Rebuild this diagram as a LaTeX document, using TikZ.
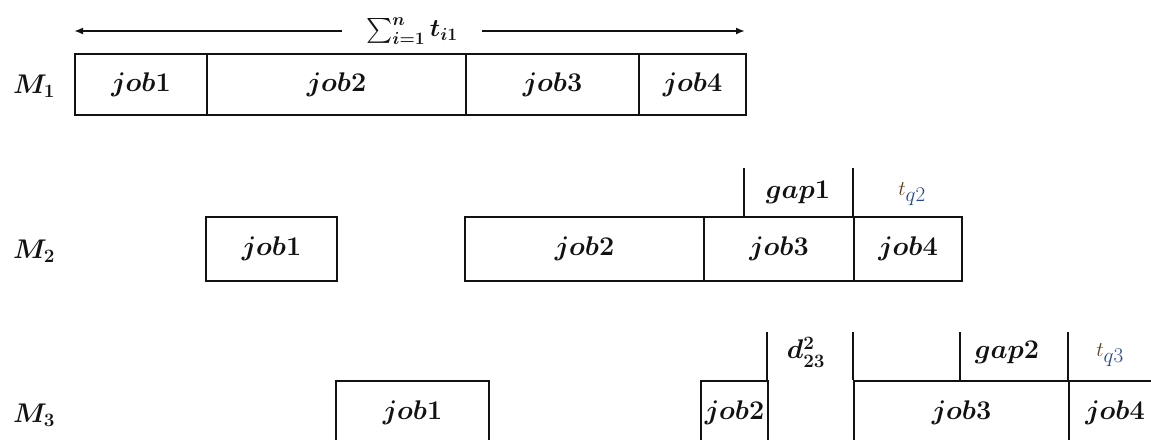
\RequirePackage{fix-cm}
\documentclass[tikz,border=0pt]{standalone}
\usepackage{amsmath}
\usetikzlibrary{arrows.meta}
\definecolor{ink}{RGB}{18,18,18}
\definecolor{tbrown}{RGB}{95,62,25}
\definecolor{tblue}{RGB}{35,70,150}
\newcommand\jobfont{\fontsize{27}{30}\selectfont\boldmath}
\newcommand\sumfont{\fontsize{25}{28}\selectfont\boldmath}
\newcommand\tqfont{\fontsize{21}{24}\selectfont}
\begin{document}
\begin{tikzpicture}[x=1pt,y=-1pt,
  jobbox/.style={draw=ink, line width=2.1pt, anchor=north west, inner sep=0pt,
                 font=\jobfont, text=ink},
  rowlabel/.style={font=\jobfont, text=ink, inner sep=0pt},
  tick/.style={draw=ink, line width=1.9pt},
  textlabel/.style={font=\jobfont, text=ink, inner sep=0pt},
  tqlabel/.style={font=\tqfont, inner sep=0pt},
  span/.style={draw=ink, line width=2.2pt, -{Latex[length=9pt,width=7pt]}}]
\useasboundingbox (0,0) rectangle (1151,439);
\clip (0,0) rectangle (1151,439);

% machine labels
\node[rowlabel] (M1) at (34,86) {$M_1$};
\node[rowlabel] (M2) at (34,251) {$M_2$};
\node[rowlabel] (M3) at (34,415) {$M_3$};

% total processing time on M1
\node[font=\sumfont, text=ink, inner xsep=24pt, inner ysep=0pt] (sum) at (412,31) {$\sum_{i=1}^{n} t_{i1}$};
\coordinate (aL) at (74,31);
\coordinate (aR) at (745,31);
\draw[span] (sum.west) -- (aL);
\draw[span] (sum.east) -- (aR);

% machine 1
\node[jobbox, minimum width=132pt, minimum height=61pt] (m1j1) at (74,53) {$job1$};
\node[jobbox, minimum width=259pt, minimum height=61pt] (m1j2) at (206,53) {$job2$};
\node[jobbox, minimum width=173pt, minimum height=61pt] (m1j3) at (465,53) {$job3$};
\node[jobbox, minimum width=107pt, minimum height=61pt] (m1j4) at (638,53) {$job4$};

% machine 2
\node[jobbox, minimum width=131pt, minimum height=64pt] (m2j1) at (205,216) {$job1$};
\node[jobbox, minimum width=239pt, minimum height=64pt] (m2j2) at (464,216) {$job2$};
\node[jobbox, minimum width=150pt, minimum height=64pt] (m2j3) at (703,216) {$job3$};
\node[jobbox, minimum width=108pt, minimum height=64pt] (m2j4) at (853,216) {$job4$};

\coordinate (g1a) at (744,168);
\coordinate (g1b) at (744,216);
\coordinate (g1c) at (853,168);
\draw[tick] (g1a) -- (g1b);
\draw[tick] (g1c) -- (m2j4.north west);
\node[textlabel] (gap1) at (798,192) {$gap1$};
\node[tqlabel] (tq2) at (912,194) {$\textcolor{tbrown}{t}_{\textcolor{tblue}{\textstyle q2}}$};

% machine 3
\node[jobbox, minimum width=153pt, minimum height=63pt] (m3j1) at (335,380) {$job1$};
\node[jobbox, minimum width=67pt, minimum height=63pt] (m3j2) at (700,380) {$job2$};
\node[jobbox, minimum width=215pt, minimum height=63pt] (m3j3) at (853,380) {$job3$};
\node[jobbox, minimum width=92pt, minimum height=63pt] (m3j4) at (1068,380) {$job4$};

\coordinate (d1) at (767,332);
\coordinate (d1b) at (767,380);
\coordinate (d2) at (853,332);
\coordinate (g2a) at (960,332);
\coordinate (g2b) at (960,380);
\coordinate (g2c) at (1068,332);
\draw[tick] (d1) -- (d1b);
\draw[tick] (d2) -- (m3j3.north west);
\draw[tick] (g2a) -- (g2b);
\draw[tick] (g2c) -- (m3j4.north west);
\node[textlabel] (d23) at (806,352) {$d^2_{23}$};
\node[textlabel] (gap2) at (1007,352) {$gap2$};
\node[tqlabel] (tq3) at (1110,355) {$\textcolor{tbrown}{t}_{\textcolor{tblue}{\textstyle q3}}$};
\end{tikzpicture}
\end{document}
